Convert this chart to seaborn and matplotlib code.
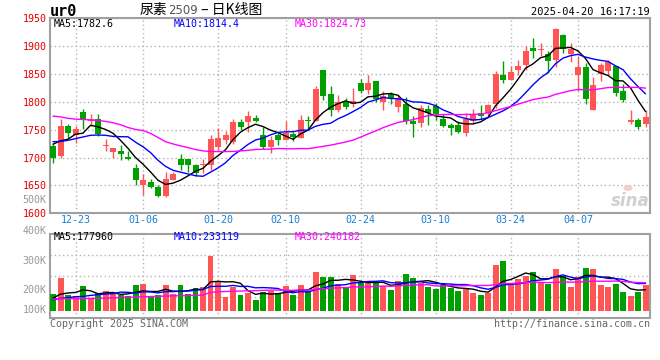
import numpy as np
import pandas as pd
import matplotlib
matplotlib.use("Agg")
import matplotlib.pyplot as plt
from matplotlib.patches import Ellipse
import seaborn as sns

# ---------------- data ----------------
dates = ["12-18", "12-19", "12-20", "12-23", "12-24", "12-25", "12-26", "12-27", "12-30", "12-31",
         "01-02", "01-03", "01-06", "01-07", "01-08", "01-09", "01-10", "01-13", "01-14", "01-15",
         "01-16", "01-17", "01-20", "01-21", "01-22", "01-23", "01-24", "01-27",
         "02-05", "02-06", "02-07", "02-10", "02-11", "02-12", "02-13", "02-14", "02-17", "02-18",
         "02-19", "02-20", "02-21", "02-24", "02-25", "02-26", "02-27", "02-28",
         "03-03", "03-04", "03-05", "03-06", "03-07", "03-10", "03-11", "03-12", "03-13", "03-14",
         "03-17", "03-18", "03-19", "03-20", "03-21", "03-24", "03-25", "03-26", "03-27", "03-28", "03-31",
         "04-01", "04-02", "04-03", "04-07", "04-08", "04-09", "04-10", "04-11",
         "04-14", "04-15", "04-16", "04-17", "04-18"]

opens = [1720, 1703, 1756, 1740, 1781.6, 1765, 1770, 1720.3, 1710.2, 1711.4,
         1700.7, 1681, 1651, 1656, 1647, 1630.4, 1660, 1697, 1697, 1686,
         1686, 1686, 1719, 1731.6, 1727.5, 1763.7, 1763.7, 1770.9, 1740.5, 1719.7,
         1740.5, 1731.6, 1742.3, 1735.2, 1766.1, 1766, 1856.6, 1813.7, 1785.2, 1800.6,
         1796.5, 1834, 1820.9, 1837, 1798.9, 1813.7, 1791, 1795.9, 1764.9, 1762,
         1787.5, 1792.3, 1768.5, 1757.8, 1757.8, 1744.7, 1765.5, 1780.4, 1780.4, 1795.9,
         1848.8, 1839.9, 1857.8, 1865.5, 1896.4, 1892.3, 1886.3, 1874.4, 1920.3, 1885.8,
         1847.6, 1862.5, 1785.2, 1850, 1854.8, 1864.9, 1820.3, 1764.1, 1766.7, 1761.1]

highs = [1723.8, 1768.5, 1761, 1756, 1788, 1778, 1779, 1732.8, 1716.7, 1722.7,
         1712, 1689, 1670, 1661, 1650.7, 1675, 1675, 1707, 1697, 1689,
         1697.6, 1740, 1752.6, 1747.7, 1770, 1770, 1784, 1776.8, 1755.4, 1739.4,
         1744, 1765.5, 1746, 1776.2, 1774.4, 1828.6, 1856.6, 1828, 1812, 1806.6,
         1824.4, 1840.5, 1847.6, 1837, 1819, 1818, 1812, 1809.6, 1774.4, 1793.5,
         1793.5, 1798.3, 1777.4, 1762.6, 1765.5, 1780.4, 1786.4, 1793.5, 1795.3, 1854.8,
         1873.8, 1864.9, 1875.6, 1900.6, 1914.3, 1905.4, 1890.5, 1933.3, 1921.4, 1905.4,
         1881.6, 1869.6, 1844.7, 1869.6, 1875.6, 1864.9, 1832.2, 1786.1, 1771.5, 1786.1]

lows = [1690, 1699, 1735, 1727, 1752, 1757, 1738, 1712, 1698.9, 1695.9,
        1695.9, 1651, 1632, 1645, 1628.6, 1630, 1660, 1677.5, 1675, 1667,
        1672.6, 1677, 1714, 1724.5, 1724, 1749.5, 1746.5, 1764, 1715.5, 1708.4,
        1722.7, 1731, 1730, 1735.2, 1749.5, 1766, 1803, 1775, 1781, 1787,
        1791, 1816, 1814.3, 1798.9, 1785.8, 1795.9, 1781, 1759.6, 1737.6, 1754.8,
        1759, 1767.3, 1754.8, 1741, 1744.7, 1738, 1759.6, 1768.5, 1774.4, 1788.7,
        1834, 1839.9, 1848.8, 1857.8, 1878.6, 1882.7, 1852.4, 1861.9, 1887.6, 1871.4,
        1820.3, 1796.5, 1785.2, 1836.9, 1848.8, 1810.1, 1800.6, 1760.5, 1751.2, 1755]

closes = [1699, 1756, 1743.5, 1751, 1769.7, 1770, 1742, 1722.7, 1716.7, 1706.6,
          1697.7, 1660, 1660, 1647, 1631.6, 1661, 1671, 1686.4, 1686, 1673,
          1687.8, 1734, 1735.8, 1740, 1763.7, 1754.8, 1774.5, 1766, 1719.7, 1731.6,
          1731.6, 1744.7, 1737, 1767.3, 1765.5, 1822.7, 1810.8, 1785.2, 1799.4, 1791,
          1801.2, 1819.7, 1834, 1804.8, 1811.3, 1804.8, 1804.8, 1766, 1760.2, 1789.3,
          1780.4, 1777.4, 1756.6, 1753, 1745.9, 1769, 1777.4, 1774.4, 1793.5, 1850.6,
          1839.9, 1854.2, 1864.9, 1891.7, 1890.5, 1894.6, 1872.7, 1931, 1895.3, 1895.3,
          1862.5, 1805.4, 1831, 1866.7, 1871.4, 1816.1, 1803, 1768.2, 1755.4, 1773.6]

price_ma5 = [1724, 1730, 1733, 1742, 1743.8, 1758.0, 1755.2, 1750.5, 1743.7, 1731.0,
             1716.6, 1700.2, 1688.2, 1674.3, 1659.3, 1651.9, 1654.1, 1659.4, 1667.2, 1675.5,
             1680.8, 1693.4, 1703.3, 1714.1, 1732.3, 1745.7, 1753.8, 1759.8, 1755.7, 1749.3,
             1744.7, 1738.7, 1732.9, 1742.4, 1749.2, 1767.4, 1780.7, 1790.3, 1796.7, 1801.8,
             1797.5, 1799.3, 1809.1, 1810.1, 1814.2, 1814.9, 1811.9, 1798.3, 1789.4, 1785.0,
             1780.1, 1774.7, 1772.8, 1771.3, 1762.7, 1760.4, 1760.4, 1763.9, 1772.0, 1793.0,
             1807.2, 1822.5, 1840.6, 1860.3, 1868.2, 1879.2, 1882.9, 1896.1, 1896.8, 1897.8,
             1891.4, 1877.9, 1857.9, 1852.2, 1847.4, 1838.1, 1837.6, 1825.1, 1802.8, 1782.6]

price_ma10 = [1728.5, 1729, 1731, 1734, 1737, 1740, 1740.5, 1740, 1738, 1737.5,
              1737.3, 1727.7, 1719.4, 1709.0, 1695.2, 1684.3, 1677.2, 1673.8, 1670.7, 1667.4,
              1666.4, 1673.8, 1681.4, 1690.7, 1703.9, 1713.3, 1723.6, 1731.6, 1734.9, 1740.8,
              1745.2, 1746.2, 1746.4, 1749.1, 1749.3, 1756.1, 1759.7, 1761.6, 1769.6, 1775.5,
              1782.5, 1790.0, 1799.7, 1803.4, 1808.0, 1806.2, 1805.6, 1803.7, 1799.8, 1799.6,
              1797.5, 1793.3, 1785.6, 1780.4, 1773.8, 1770.3, 1767.5, 1768.4, 1771.7, 1777.8,
              1783.8, 1791.5, 1802.3, 1816.2, 1830.6, 1843.2, 1852.7, 1868.4, 1878.5, 1883.0,
              1885.3, 1880.4, 1877.0, 1874.5, 1872.6, 1864.7, 1857.8, 1841.5, 1827.5, 1814.4]

price_ma30 = [1774.5, 1773, 1770.5, 1769, 1768.5, 1767.5, 1766.7, 1765, 1762.5, 1759,
              1754, 1750.6, 1748.5, 1743.5, 1736, 1728.5, 1724.5, 1721, 1718, 1714.5,
              1712, 1711, 1710.8, 1710.8, 1711, 1712, 1713, 1714.5, 1715, 1715.2,
              1716.3, 1715.9, 1715.7, 1716.2, 1716.1, 1717.9, 1720.1, 1722.3, 1725.1, 1727.9,
              1731.3, 1736.7, 1742.5, 1747.7, 1753.7, 1758.5, 1763.0, 1765.6, 1768.1, 1772.0,
              1775.1, 1776.5, 1777.2, 1777.6, 1777.0, 1777.5, 1777.6, 1777.9, 1780.4, 1784.3,
              1787.9, 1791.6, 1795.8, 1800.0, 1804.2, 1806.6, 1808.6, 1813.5, 1816.7, 1820.1,
              1822.2, 1821.7, 1821.6, 1823.7, 1825.7, 1826.1, 1826.0, 1826.1, 1825.9, 1824.7]

volume_k = [146, 286, 134, 128, 216, 108, 155, 172, 146, 134,
            131, 225, 233, 120, 134, 225, 146, 225, 146, 201,
            207, 481, 251, 120, 210, 137, 158, 93, 166, 172,
            155, 216, 140, 225, 172, 338, 295, 295, 233, 210,
            312, 239, 239, 239, 216, 181, 260, 321, 286, 239,
            210, 190, 225, 201, 172, 187, 158, 137, 158, 400,
            435, 233, 274, 306, 336, 248, 233, 365, 303, 207,
            298, 374, 365, 225, 207, 233, 166, 128, 166, 225]

vol_ma5 = [110, 145, 155, 160, 182, 174.4, 148.2, 155.8, 159.4, 143,
           147.6, 161.6, 173.8, 168.6, 168.6, 187.4, 171.6, 170, 175.2, 188.6,
           185, 252, 257.2, 252, 253.8, 239.8, 175.2, 143.6, 152.8, 145.2,
           148.8, 160.4, 169.8, 181.6, 181.6, 218.2, 234, 265, 266.6, 274.2,
           269, 257.8, 246.6, 247.8, 249, 222.8, 227, 243.4, 252.8, 257.4,
           263.2, 249.2, 230, 213, 199.6, 195, 188.6, 171, 162.4, 208,
           257.6, 272.6, 300, 329.6, 316.8, 279.4, 279.4, 297.6, 297, 271.2,
           281.2, 309.4, 309.4, 293.8, 293.8, 280.8, 239.2, 191.8, 180, 183.6]

vol_ma10 = [96, 108, 114, 123, 125, 134, 140, 146, 149, 162.5,
            161, 154.9, 164.8, 164, 155.8, 167.5, 166.6, 171.9, 171.9, 178.6,
            186.2, 211.8, 213.6, 213.6, 221.2, 212.4, 213.6, 200.4, 202.4, 199.5,
            194.3, 167.8, 156.7, 167.2, 163.4, 183.5, 197.2, 217.4, 224.1, 227.9,
            243.6, 245.9, 255.8, 257.2, 261.6, 245.9, 242.4, 245, 250.3, 253.2,
            243, 238.1, 236.7, 232.9, 228.5, 229.1, 218.9, 200.5, 187.7, 203.8,
            226.3, 230.6, 235.5, 246, 262.4, 268.5, 276, 298.8, 313.3, 294,
            280.3, 294.4, 303.5, 295.4, 282.5, 281, 274.3, 250.6, 236.9, 238.7]

vol_ma30 = [102, 104, 105, 105, 106, 107, 108, 110, 112, 115,
            117, 120, 122, 124, 126, 128, 130, 131, 133, 135,
            137, 160, 166, 168, 170, 172, 174, 175, 178, 180.2,
            180.5, 178.2, 178.4, 181.6, 180.1, 187.8, 192.5, 196.6, 199.5, 202,
            208, 208.5, 208.7, 212.7, 215.4, 213.9, 217.7, 220.9, 225.6, 226.9,
            227, 217.3, 216.4, 219.1, 217.8, 219.5, 219.5, 221, 220.7, 228.3,
            237.6, 238.2, 242.7, 245.4, 250.8, 247.8, 245.8, 248.1, 250.4, 250.3,
            249.9, 254.4, 258.6, 258.1, 257.8, 259.5, 256.4, 250, 246, 245.5]

tick_dates = ["12-23", "01-06", "01-20", "02-10", "02-24", "03-10", "03-24", "04-07"]
price_ticks = [1600, 1650, 1700, 1750, 1800, 1850, 1900, 1950]
vol_tick_labels = ["400K", "300K", "200K", "100K"]

title_parts = ["尿素", "2509", " – 日K线图"]
symbol = "ur0"
timestamp = "2025-04-20 16:17:19"
price_ma_labels = ["MA5:1782.6", "MA10:1814.4", "MA30:1824.73"]
vol_ma_labels = ["MA5:177960", "MA10:233119", "MA30:240182"]

# ---------------- style ----------------
sns.set_style("white")
plt.rcParams['font.family'] = ['DejaVu Sans Mono', 'Noto Sans CJK SC']

RED = "#ff5555"
GREEN = "#00a000"
MA_COLORS = ["#000000", "#0000ff", "#ff00ff"]
GRID = "#b4b4b4"
FRAME = "#a0a0a0"
DATE_BLUE = "#1a7fd4"
GRAY = "#999999"

W, H = 660, 360
fig = plt.figure(figsize=(6.6, 3.6), dpi=100)


def rect(l, t, r, b):
    return [l / W, 1 - b / H, (r - l) / W, (b - t) / H]


def px(x, y):
    return x / W, 1 - y / H


ax = fig.add_axes(rect(50, 18.3, 650, 213.3))
axv = fig.add_axes(rect(50, 234.3, 650, 318))

n = len(dates)
idx = np.arange(n)
o = np.array(opens)
c = np.array(closes)
up = c >= o
colors = np.where(up, RED, GREEN)

# ---- candles ----
ax.vlines(idx, lows, highs, colors=colors, linewidth=1, zorder=3)
ax.bar(idx, np.maximum(np.abs(c - o), 1.6), bottom=np.minimum(o, c), width=0.8,
       color=colors, linewidth=0, zorder=4)

# ---- price MAs via seaborn ----
ma_df = pd.DataFrame({
    "i": np.concatenate([idx, idx, idx]),
    "v": np.concatenate([price_ma5, price_ma10, price_ma30]),
    "ma": ["MA5"] * n + ["MA10"] * n + ["MA30"] * n,
})
sns.lineplot(data=ma_df, x="i", y="v", hue="ma", palette=MA_COLORS, linewidth=1,
             legend=False, ax=ax, zorder=5)

# ---- volume bars via seaborn ----
vdf = pd.DataFrame({"i": idx, "vol": volume_k, "dir": np.where(up, "up", "down")})
sns.barplot(data=vdf, x="i", y="vol", hue="dir", palette={"up": RED, "down": GREEN},
            native_scale=True, width=0.8, dodge=False, saturation=1, errorbar=None,
            legend=False, ax=axv, zorder=3, linewidth=0)

vma_df = pd.DataFrame({
    "i": np.concatenate([idx, idx, idx]),
    "v": np.concatenate([vol_ma5, vol_ma10, vol_ma30]),
    "ma": ["MA5"] * n + ["MA10"] * n + ["MA30"] * n,
})
sns.lineplot(data=vma_df, x="i", y="v", hue="ma", palette=MA_COLORS, linewidth=1,
             legend=False, ax=axv, zorder=5)

# ---- axes formatting ----
tick_pos = [dates.index(d) for d in tick_dates]
for a in (ax, axv):
    a.set_xlim(-0.4, n - 0.4)
    a.set_xlabel("")
    a.set_ylabel("")
    a.set_xticks(tick_pos)
    a.grid(True, axis="both", color=GRID, linestyle=(0, (1, 2)), linewidth=1)
    a.set_axisbelow(True)
    for s in a.spines.values():
        s.set_color(FRAME)
        s.set_linewidth(1.5)
    a.tick_params(length=0)

ax.set_ylim(1600, 1950)
ax.set_yticks(price_ticks)
ax.set_yticklabels([str(t) for t in price_ticks], color="#e60000", fontsize=7.2)
ax.tick_params(axis="y", pad=2.5)
ax.set_xticklabels(tick_dates, color=DATE_BLUE, fontsize=7.2)
ax.tick_params(axis="x", pad=1.5)

vol_lo = -63.9
vol_hi = 668.9
axv.set_ylim(vol_lo, vol_hi)
q = (vol_hi - vol_lo) / 4
axv.set_yticks([vol_lo + q, vol_lo + 2 * q, vol_lo + 3 * q])
axv.set_yticklabels([])
axv.set_xticklabels([])

# ---- texts ----
fig.text(*px(50, 12), symbol, fontsize=11, fontweight="bold", ha="left", va="center",
         color="black")
t1 = fig.text(*px(140, 10), title_parts[0], fontsize=10, ha="left", va="center",
              family=["Noto Sans CJK SC"], color="black")
t2 = ax.annotate(title_parts[1], xy=(1, 0.5), xycoords=t1, ha="left", va="center",
                 fontsize=8.5, color="#555555", family=["DejaVu Sans"],
                 annotation_clip=False)
t3 = ax.annotate(title_parts[2], xy=(1, 0.5), xycoords=t2, ha="left", va="center",
                 fontsize=10, color="black", family=["Noto Sans CJK SC", "DejaVu Sans"],
                 annotation_clip=False)
fig.text(*px(650, 12), timestamp, fontsize=7.5, ha="right", va="center", color="black")

for lab, xx, col in zip(price_ma_labels, [54, 174, 295], MA_COLORS):
    fig.text(*px(xx, 24), lab, fontsize=7.2, ha="left", va="center", color=col)
for lab, xx, col in zip(vol_ma_labels, [54, 174, 295], MA_COLORS):
    fig.text(*px(xx, 237.5), lab, fontsize=7.2, ha="left", va="center", color=col)

fig.text(*px(46.7, 200), "500K", fontsize=7.2, ha="right", va="center", color=GRAY)
for lab, yy in zip(vol_tick_labels, [230.7, 261, 290, 310]):
    fig.text(*px(46.7, yy), lab, fontsize=7.2, ha="right", va="center", color=GRAY)

fig.text(*px(50, 324), "Copyright 2025 SINA.COM", fontsize=7.2, ha="left", va="center",
         color="#666666")
fig.text(*px(650, 324), "http://finance.sina.com.cn", fontsize=7.2, ha="right",
         va="center", color="#666666")

# sina watermark (logo eye as a patch, word as text)
fig.patches.append(Ellipse(px(628, 188), 9 / W, 6 / H, transform=fig.transFigure,
                           facecolor="#f6cccc", edgecolor="none", zorder=1))
fig.text(*px(630, 201), "sina", fontsize=12, fontweight="bold", style="italic",
         ha="center", va="center", color="#d0d0d0", family=["DejaVu Sans"], zorder=1)

fig.savefig("out.png", dpi=100)
